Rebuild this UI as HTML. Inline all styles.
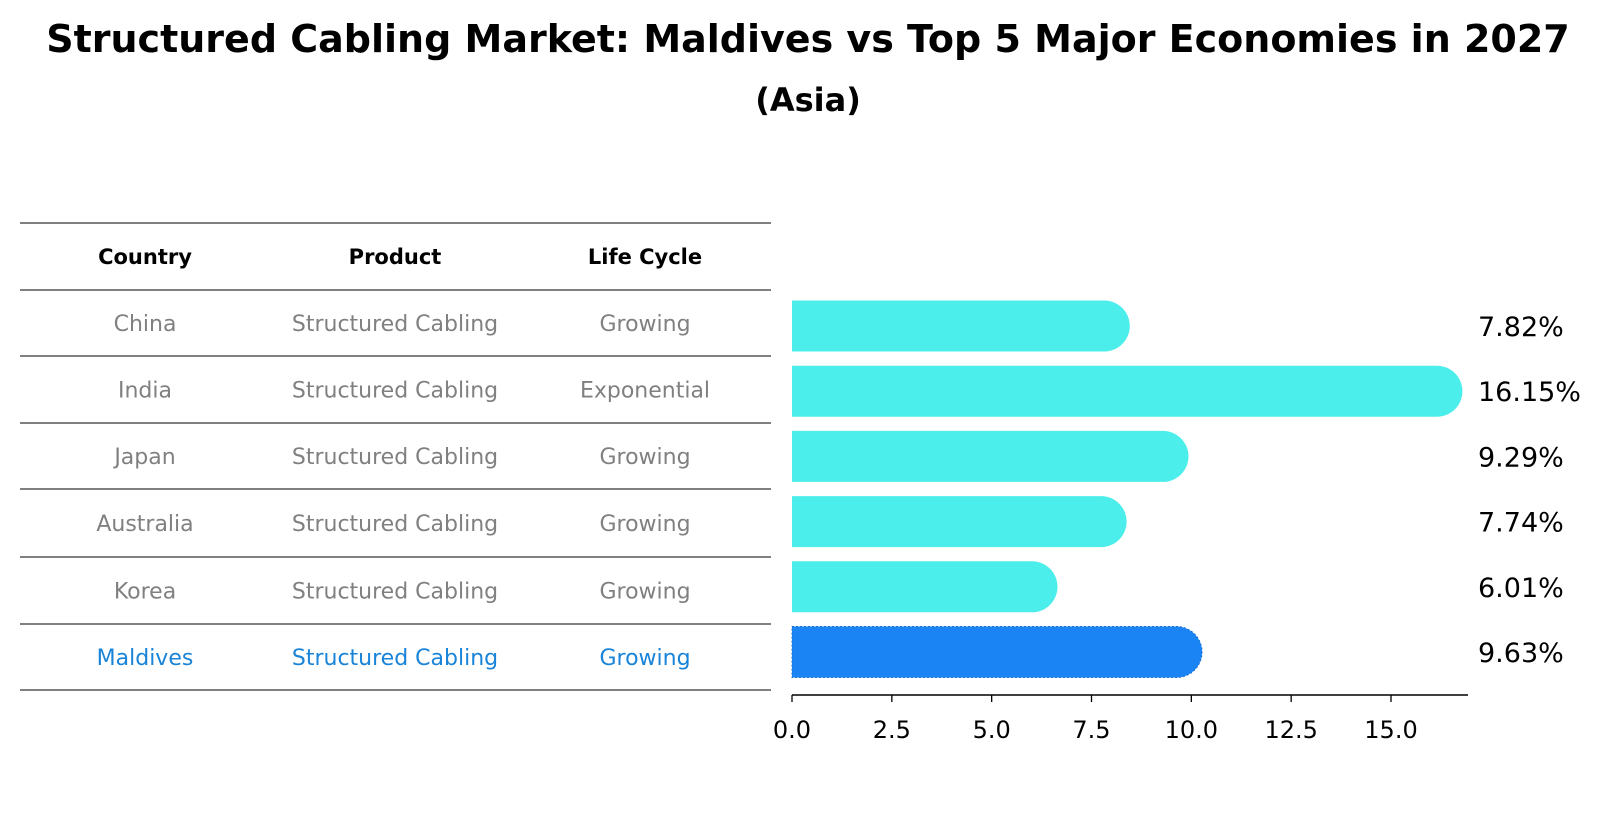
<!DOCTYPE html>
<html><head><meta charset="utf-8"><style>
body{margin:0;background:#fff;font-family:"DejaVu Sans","Liberation Sans",sans-serif;}
svg text{font-family:"DejaVu Sans","Liberation Sans",sans-serif;}
</style></head><body>
<svg width="1606" height="823" viewBox="0 0 1606 823" xmlns="http://www.w3.org/2000/svg">
<text x="808" y="52" text-anchor="middle" font-size="38" font-weight="bold">Structured Cabling Market: Maldives vs Top 5 Major Economies in 2027</text>
<text x="808" y="111" text-anchor="middle" font-size="32" font-weight="bold">(Asia)</text>
<g id="table"></g>
<g id="bars"></g>
</svg>
<script>
const countries=["China","India","Japan","Australia","Korea","Maldives"];
const products=["Structured Cabling","Structured Cabling","Structured Cabling","Structured Cabling","Structured Cabling","Structured Cabling"];
const lifecycles=["Growing","Exponential","Growing","Growing","Growing","Growing"];
const values=[7.82,16.15,9.29,7.74,6.01,9.63];
const xTicks=[0,2.5,5,7.5,10,12.5,15];
const NS="http://www.w3.org/2000/svg";
function mk(tag,attrs,parent,text){const e=document.createElementNS(NS,tag);for(const k in attrs)e.setAttribute(k,attrs[k]);if(text!==undefined)e.textContent=text;parent.appendChild(e);return e;}
const tbl=document.getElementById('table');
const lineYs=[223,290,356,423,489,557,624,690];
lineYs.forEach(y=>{const l=mk('line',{x1:20,x2:771,y1:y,y2:y,stroke:'#000','stroke-width':1},tbl);

});
const colX=[145,395,645];
["Country","Product","Life Cycle"].forEach((h,i)=>{const t=mk('text',{x:colX[i],y:264,'text-anchor':'middle','font-size':21,'font-weight':'bold'},tbl,h);

});
const rowY=r=>(lineYs[r+1]+lineYs[r+2])/2+8;
countries.forEach((c,r)=>{const col=r===countries.length-1?'#1a84d8':'#808080';
[c,products[r],lifecycles[r]].forEach((v,i)=>{const t=mk('text',{x:colX[i],y:rowY(r),'text-anchor':'middle','font-size':22,fill:col},tbl,v);

});});
const g=document.getElementById('bars');
const x0=792,ppu=(1391-792)/15,axisY=695,bh=51;
const xs=v=>x0+v*ppu;
const yc=i=>326+i*65.2;
values.forEach((v,i)=>{const last=i===values.length-1;const col=last?'#1a84f5':'#4beeea';
const xe=xs(v),y=yc(i)-bh/2,r=bh/2;
const p=mk('path',{d:`M${x0},${y} H${xe} A${r},${r} 0 0 1 ${xe},${y+bh} H${x0} Z`,fill:col},g);
if(last){p.setAttribute('stroke','#1570d0');p.setAttribute('stroke-dasharray','2,2');p.setAttribute('stroke-width','1');}


const t=mk('text',{x:1478,y:yc(i)+10,'font-size':27},g,v.toFixed(2)+'%');

});
const ax=mk('line',{x1:x0,x2:1468,y1:axisY,y2:axisY,stroke:'#000','stroke-width':1.5},g);


xTicks.forEach(v=>{const tk=mk('line',{x1:xs(v),x2:xs(v),y1:axisY,y2:axisY+7,stroke:'#000','stroke-width':1.3},g);


const t=mk('text',{x:xs(v),y:axisY+43,'text-anchor':'middle','font-size':24},g,v.toFixed(1));

});
</script>
</body></html>
